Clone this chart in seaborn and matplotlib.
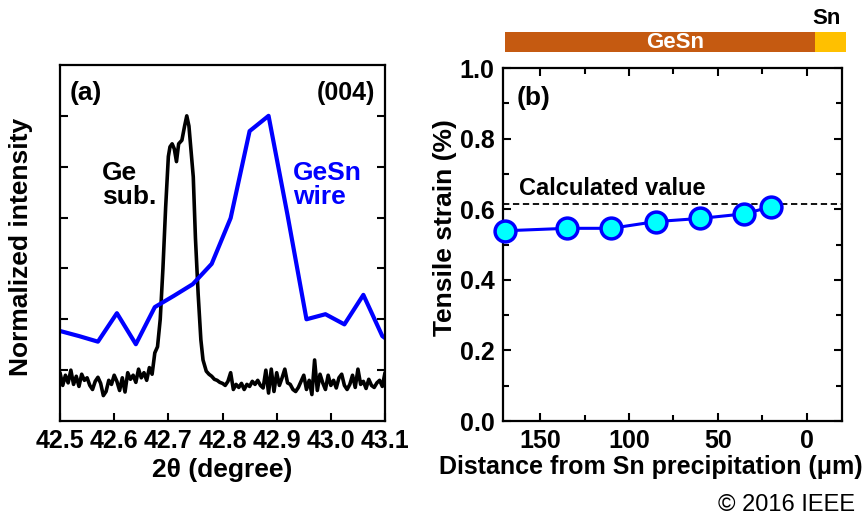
import numpy as np
import pandas as pd
import matplotlib
matplotlib.use("Agg")
import matplotlib.pyplot as plt
import matplotlib.transforms as mtransforms
from matplotlib.patches import Rectangle
from matplotlib.ticker import MultipleLocator
import seaborn as sns

# ---------------- data: panel (a) ----------------
gesn_theta = [42.500, 42.535, 42.570, 42.605, 42.640, 42.675, 42.710, 42.745, 42.780,
              42.815, 42.850, 42.885, 42.920, 42.955, 42.990, 43.025, 43.060, 43.095, 43.130]
gesn_int = [1.77, 1.67, 1.56, 2.12, 1.51, 2.24, 2.46, 2.69, 3.09,
            3.99, 5.70, 6.00, 4.05, 2.00, 2.10, 1.90, 2.48, 1.67, 1.40]

ge_theta = [42.500, 42.505, 42.510, 42.515, 42.520, 42.525, 42.530, 42.535, 42.540, 42.545,
            42.550, 42.555, 42.560, 42.565, 42.570, 42.575, 42.580, 42.585, 42.590, 42.595,
            42.600, 42.605, 42.610, 42.615, 42.620, 42.625, 42.630, 42.635, 42.640, 42.645,
            42.650, 42.655, 42.660, 42.665, 42.670, 42.675,
            42.680, 42.685, 42.690, 42.695, 42.700, 42.703, 42.707, 42.711, 42.715, 42.719,
            42.725, 42.730, 42.734, 42.738, 42.742, 42.746, 42.750, 42.755, 42.760, 42.764,
            42.770, 42.775,
            42.780, 42.785, 42.790, 42.795, 42.800, 42.805, 42.810, 42.815, 42.820, 42.825,
            42.830, 42.835, 42.840, 42.845, 42.850, 42.855, 42.860, 42.865, 42.870, 42.875,
            42.880, 42.885, 42.890, 42.895, 42.900, 42.905, 42.910, 42.915, 42.920, 42.925,
            42.930, 42.935, 42.940, 42.945, 42.950, 42.955, 42.960, 42.965, 42.970, 42.975,
            42.980, 42.985, 42.990, 42.995, 43.000, 43.005, 43.010, 43.015, 43.020, 43.025,
            43.030, 43.035, 43.040, 43.045, 43.050, 43.055, 43.060, 43.065, 43.070, 43.075,
            43.080, 43.085, 43.090, 43.095, 43.100]
ge_int = [0.95, 0.70, 0.90, 0.75, 1.00, 0.72, 0.88, 0.68, 0.92, 0.80,
          0.85, 0.70, 0.62, 0.78, 0.86, 0.74, 0.50, 0.58, 0.80, 0.72,
          0.90, 0.78, 0.60, 0.85, 0.57, 0.95, 0.82, 0.90, 0.76, 1.02,
          0.85, 0.95, 0.80, 1.05, 0.92, 1.34,
          1.46, 2.00, 3.00, 4.20, 5.20, 5.39, 5.45, 5.35, 5.10, 5.45,
          5.52, 5.80, 6.00, 5.80, 5.30, 4.80, 3.60, 2.50, 1.60, 1.20,
          0.98, 0.92,
          0.88, 0.82, 0.80, 0.76, 0.74, 0.70, 0.78, 0.95, 0.62, 0.72,
          0.66, 0.74, 0.62, 0.72, 0.68, 0.78, 0.72, 0.80, 0.70, 0.65,
          1.00, 0.55, 1.02, 0.58, 0.95, 0.70, 0.85, 1.02, 0.75, 0.72,
          0.62, 0.58, 0.66, 0.78, 0.90, 0.62, 0.80, 0.52, 1.20, 0.60,
          0.92, 0.75, 0.62, 0.90, 0.70, 0.80, 0.65, 0.85, 0.92, 0.70,
          0.62, 0.72, 0.90, 0.66, 1.02, 0.72, 0.78, 0.64, 0.82, 0.70,
          0.66, 0.75, 0.80, 0.68, 0.95]

a_xticks = [42.5, 42.6, 42.7, 42.8, 42.9, 43.0, 43.1]
a_xticklabels = ["42.5", "42.6", "42.7", "42.8", "42.9", "43.0", "43.1"]

# ---------------- data: panel (b) ----------------
distance_um = [170, 135, 110, 85, 60, 35, 20]
strain_pct = [0.539, 0.546, 0.546, 0.565, 0.574, 0.587, 0.607]
calculated_strain = 0.614
gesn_bar = [170, -5]
sn_bar = [-5, -22]

# ---------------- style ----------------
sns.set_style("ticks")
plt.rcParams["font.family"] = ["Liberation Sans", "DejaVu Sans"]
plt.rcParams["font.weight"] = "bold"
plt.rcParams["axes.labelweight"] = "bold"
plt.rcParams["axes.linewidth"] = 1.6
plt.rcParams["xtick.direction"] = "in"
plt.rcParams["ytick.direction"] = "in"
for key in ["text.color", "axes.labelcolor", "xtick.color", "ytick.color", "axes.edgecolor"]:
    plt.rcParams[key] = "black"

fig = plt.figure(figsize=(8.66, 5.19), dpi=100)
ax1 = fig.add_axes([0.0693, 0.1888, 0.3753, 0.686])
ax2 = fig.add_axes([0.5808, 0.1888, 0.3915, 0.680])

# ---- panel (a)
dfa_ge = pd.DataFrame({"theta": ge_theta, "I": ge_int})
dfa_gesn = pd.DataFrame({"theta": gesn_theta, "I": gesn_int})
sns.lineplot(data=dfa_ge, x="theta", y="I", ax=ax1, color="black", linewidth=2.6)
sns.lineplot(data=dfa_gesn, x="theta", y="I", ax=ax1, color="#0000FF", linewidth=3.0)
ax1.set_xlim(42.5, 43.1)
ax1.set_ylim(0, 7)
ax1.set_xticks(a_xticks)
ax1.set_xticklabels(a_xticklabels)
ax1.set_yticks([1, 2, 3, 4, 5, 6])
ax1.tick_params(axis="y", left=True, right=True, labelleft=False, length=6, width=1.5)
ax1.tick_params(axis="x", bottom=True, top=False, length=6, width=1.5, labelsize=18, pad=6)
ax1.set_xlabel("2θ (degree)", fontsize=19)
ax1.set_ylabel("Normalized intensity", fontsize=19)
ax1.xaxis.set_label_coords(0.498, -0.105)
ax1.yaxis.set_label_coords(-0.082, 0.49)
for s in ax1.spines.values():
    s.set_visible(True)
    s.set_linewidth(1.6)
ax1.text(42.518, 6.45, "(a)", fontsize=19, ha="left", va="center")
ax1.text(43.081, 6.45, "(004)", fontsize=18, ha="right", va="center")
ax1.text(42.578, 4.88, "Ge", fontsize=19, ha="left", va="center", color="black")
ax1.text(42.578, 4.40, "sub.", fontsize=19, ha="left", va="center", color="black")
ax1.text(42.930, 4.88, "GeSn", fontsize=19, ha="left", va="center", color="#0000FF")
ax1.text(42.930, 4.40, "wire", fontsize=19, ha="left", va="center", color="#0000FF")

# ---- panel (b)
dfb = pd.DataFrame({"d": distance_um, "s": strain_pct})
ax2.axhline(calculated_strain, color="black", linestyle=(0, (3.5, 2)), linewidth=1.3, zorder=1)
sns.lineplot(data=dfb, x="d", y="s", ax=ax2, color="#0000FF", linewidth=2.2,
             marker="o", markersize=15, markerfacecolor="#00FFFF",
             markeredgecolor="#0000FF", markeredgewidth=2.5, zorder=3, clip_on=False)
ax2.set_xlim(171, -20)
ax2.set_ylim(0, 1.0)
ax2.set_xticks([150, 100, 50, 0])
ax2.set_xticklabels(["150", "100", "50", "0"])
ax2.set_yticks([0.0, 0.2, 0.4, 0.6, 0.8, 1.0])
ax2.set_yticklabels(["0.0", "0.2", "0.4", "0.6", "0.8", "1.0"])
ax2.xaxis.set_minor_locator(MultipleLocator(25))
ax2.yaxis.set_minor_locator(MultipleLocator(0.1))
ax2.tick_params(which="both", top=True, right=True, width=1.5)
ax2.tick_params(which="major", length=6, labelsize=18, pad=6)
ax2.tick_params(which="minor", length=4)
ax2.set_xlabel("Distance from Sn precipitation (μm)", fontsize=18)
ax2.set_ylabel("Tensile strain (%)", fontsize=19)
ax2.xaxis.set_label_coords(0.437, -0.095)
ax2.yaxis.set_label_coords(-0.136, 0.547)
for s in ax2.spines.values():
    s.set_visible(True)
    s.set_linewidth(1.6)
ax2.text(163.2, 0.915, "(b)", fontsize=19, ha="left", va="center")
ax2.text(162.2, 0.660, "Calculated value", fontsize=17, ha="left", va="center")

# top bar (GeSn / Sn)
trans = mtransforms.blended_transform_factory(ax2.transData, fig.transFigure)
y0 = 1 - 51.7 / 519
h = (51.7 - 32.3) / 519
ax2.add_patch(Rectangle((gesn_bar[0], y0), gesn_bar[1] - gesn_bar[0], h,
                        transform=trans, facecolor="#C55A11", edgecolor="none", clip_on=False))
ax2.add_patch(Rectangle((sn_bar[0], y0), sn_bar[1] - sn_bar[0], h,
                        transform=trans, facecolor="#FFC000", edgecolor="none", clip_on=False))
ax2.text(74, y0 + h / 2, "GeSn", transform=trans, color="white",
         fontsize=16, ha="center", va="center")
ax2.text(-11.5, 1 - 18 / 519, "Sn", transform=trans, color="black",
         fontsize=16, ha="center", va="center")

fig.text(855 / 866, 1 - 505 / 519, "© 2016 IEEE", fontsize=17, fontweight="normal",
         ha="right", va="center")

fig.savefig("out.png", dpi=100)
